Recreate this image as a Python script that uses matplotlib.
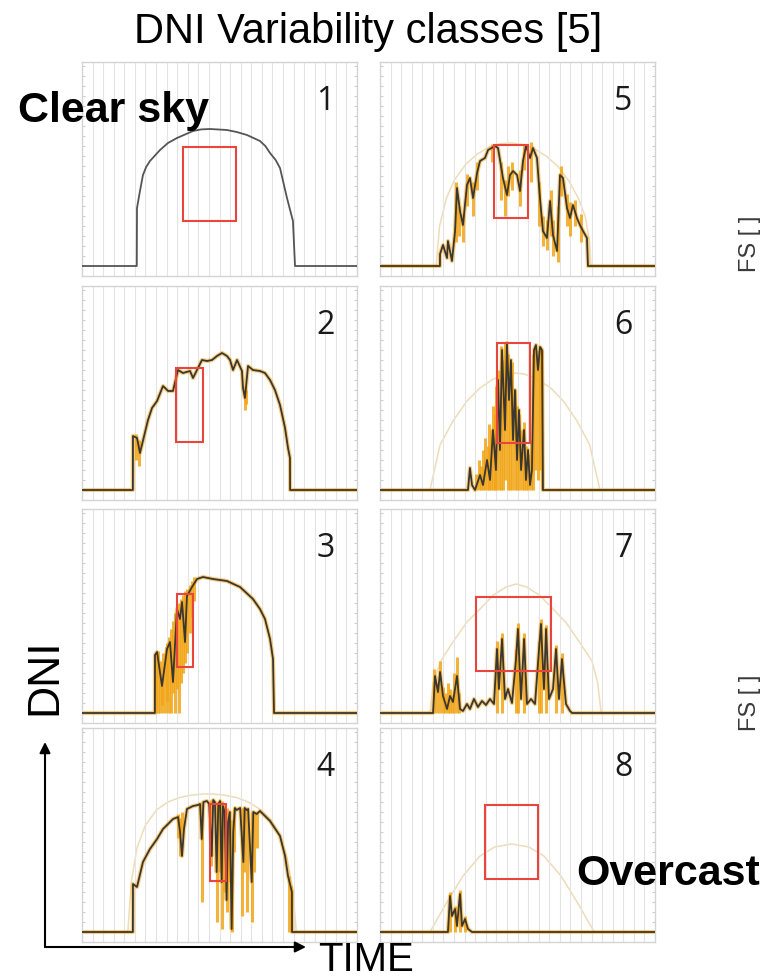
import matplotlib
matplotlib.use("Agg")
import matplotlib.pyplot as plt
from matplotlib.patches import Rectangle, FancyArrowPatch
import numpy as np

# ---------------- data (time of day in h, DNI in W/m2) ----------------
# class 1 - clear sky
t1 = [0, 4.78, 4.80, 5.06, 5.32, 5.60, 5.93, 6.81, 7.50, 8.29, 9.69, 10.40, 11.17,
      12.65, 13.50, 14.40, 15.53, 16.00, 16.41, 16.90, 17.28, 17.89, 18.41, 18.59, 24]
dni1 = [0, 0, 290, 375, 455, 495, 525, 580, 615, 640, 675, 683, 685,
        680, 670, 655, 625, 600, 565, 530, 490, 340, 225, 0, 0]

# class 2
t2 = [0, 4.44, 4.45, 4.80, 5.06, 5.76, 6.11, 6.55, 7.07, 7.51, 7.94, 8.38, 8.81,
      9.43, 9.69, 10.12, 10.47, 10.91, 11.35, 11.78, 12.22, 12.65, 12.92, 13.18,
      13.53, 13.96, 14.05, 14.22, 14.49, 14.92, 15.53, 15.97, 16.41, 16.84, 17.28,
      17.72, 17.98, 18.15, 18.16, 24]
dni2 = [0, 0, 270, 260, 185, 350, 410, 445, 520, 495, 495, 600, 585,
        595, 560, 610, 650, 645, 650, 670, 685, 670, 650, 600,
        650, 595, 510, 460, 620, 600, 595, 585, 550, 500, 425,
        310, 210, 160, 0, 0]

# class 3
t3 = [0, 6.36, 6.37, 6.55, 6.98, 7.42, 7.68, 7.94, 8.29, 8.55, 8.73, 8.99, 9.16,
      9.60, 10.04, 10.56, 11.43, 12.65, 13.79, 14.92, 15.53, 15.97, 16.41, 16.67,
      16.76, 24]
dni3 = [0, 0, 290, 305, 135, 320, 355, 155, 520, 470, 555, 355, 585,
        630, 670, 680, 670, 660, 630, 570, 520, 470, 370, 270,
        0, 0]

# class 4
t4 = [0, 4.44, 4.45, 4.80, 5.32, 5.93, 6.55, 7.07, 7.51, 7.94, 8.38, 8.55, 8.73,
      8.90, 9.16, 9.69, 10.12, 10.30, 10.45, 10.60, 10.90, 11.10, 11.32, 11.45,
      11.60, 11.75, 11.90, 12.05, 12.19, 12.30, 12.45, 12.62, 12.75, 12.90, 13.06,
      13.20, 13.35, 13.50, 13.65, 13.80, 14.08, 14.20, 14.37, 14.50, 14.81, 14.95,
      15.25, 15.53, 16.41, 17.28, 17.72, 17.98, 18.32, 18.33, 24]
dni4 = [0, 0, 240, 225, 350, 415, 465, 515, 540, 565, 575, 505, 380,
        515, 615, 630, 635, 640, 465, 650, 655, 640, 380, 660,
        650, 300, 640, 655, 250, 630, 600, 160, 550, 600, 15,
        500, 620, 610, 615, 620, 350, 620, 610, 615, 250, 600,
        590, 605, 555, 480, 380, 280, 200, 0, 0]

# class 5
t5 = [0, 5.23, 5.24, 5.50, 5.85, 5.93, 6.28, 6.55, 6.72, 6.98, 7.24, 7.59, 7.85,
      8.12, 8.47, 8.73, 9.16, 9.43, 10.04, 10.30, 10.73, 11.08, 11.35, 11.61,
      11.96, 12.22, 12.48, 12.74, 13.09, 13.35, 13.70, 13.96, 14.22, 14.57, 14.84,
      15.10, 15.45, 15.71, 15.97, 16.32, 16.58, 16.84, 17.19, 17.45, 17.72, 18.06,
      18.15, 24]
dni5 = [0, 0, 60, 105, 40, 125, 25, 175, 390, 275, 205, 405, 440,
        340, 465, 525, 540, 580, 600, 590, 440, 355, 455, 475,
        455, 375, 525, 600, 540, 590, 540, 340, 175, 140, 325,
        155, 75, 455, 440, 290, 240, 305, 240, 205, 175, 140,
        0, 0]

# class 6
t6 = [0, 7.68, 7.85, 8.03, 8.29, 8.73, 8.99, 9.34, 9.60, 9.86, 10.12, 10.30,
      10.47, 10.65, 10.91, 11.08, 11.26, 11.43, 11.61, 11.78, 11.96, 12.13, 12.31,
      12.57, 12.74, 12.92, 13.09, 13.26, 13.44, 13.61, 13.79, 13.96, 14.14, 14.22, 24]
dni6 = [0, 0, 110, 25, 0, 75, 25, 150, 50, 300, 100, 550,
        200, 700, 300, 735, 450, 650, 250, 500, 150, 400, 100,
        300, 50, 200, 25, 100, 700, 725, 600, 715, 700, 0, 0]

# class 7
t7 = [0, 4.63, 4.80, 5.06, 5.24, 5.50, 5.85, 6.11, 6.37, 6.72, 6.98, 7.24, 7.59,
      7.85, 8.20, 8.55, 8.90, 9.25, 9.60, 9.95, 10.21, 10.38, 10.65, 10.91, 11.17,
      11.52, 11.87, 12.04, 12.31, 12.57, 12.83, 13.18, 13.53, 13.88, 14.05, 14.31,
      14.49, 14.75, 15.10, 15.36, 15.62, 15.88, 16.23, 16.58, 16.76, 24]
dni7 = [0, 0, 185, 105, 205, 85, 20, 85, 55, 185, 20, 10, 45,
        20, 70, 30, 60, 40, 70, 45, 320, 120, 370, 70, 120,
        50, 270, 420, 70, 370, 45, 70, 45, 320, 445, 120,
        420, 70, 120, 320, 70, 270, 45, 10, 0, 0]

# class 8 - overcast
t8 = [0, 5.93, 6.11, 6.28, 6.55, 6.72, 6.98, 7.16, 7.42, 7.68, 8.03, 24]
dni8 = [0, 0, 180, 80, 115, 30, 190, 30, 65, 15, 0, 0]

# clear-sky reference (beige) for classes 4-8
cs_t4 = [4.0, 4.3, 4.8, 5.5, 6.5, 7.5, 8.5, 9.5, 10.5, 11.5, 12.5, 13.5, 14.5,
         15.5, 16.5, 17.3, 17.9, 18.4, 18.7]
cs_dni4 = [0, 250, 420, 530, 610, 650, 672, 684, 690, 690, 684, 672, 650,
           615, 560, 480, 370, 210, 0]
cs_t5 = [4.9, 5.2, 5.8, 6.5, 7.5, 8.5, 9.5, 10.5, 11.5, 12.5, 13.5, 14.5, 15.5,
         16.5, 17.3, 17.9, 18.3, 18.4]
cs_dni5 = [0, 200, 340, 430, 510, 560, 595, 612, 615, 607, 585, 550, 500,
           425, 340, 250, 120, 0]
cs_t6 = [4.36, 5.24, 6.37, 7.59, 8.73, 9.9, 11.0, 11.8, 12.6, 13.7, 14.9, 16.0,
         17.2, 18.3, 19.2]
cs_dni6 = [0, 225, 345, 445, 510, 555, 580, 585, 580, 555, 510, 445,
           345, 225, 0]
cs_t7 = [4.36, 4.63, 5.3, 6.37, 7.59, 8.73, 9.9, 11.0, 11.9, 12.8, 13.9, 15.1,
         16.2, 17.4, 18.5, 19.0, 19.3]
cs_dni7 = [0, 150, 260, 355, 455, 520, 590, 630, 645, 630, 590, 520,
           455, 355, 260, 150, 0]
cs_t8 = [4.36, 5.85, 7.24, 8.73, 10.0, 11.5, 13.0, 14.3, 15.8, 17.2, 18.7]
cs_dni8 = [0, 150, 280, 380, 425, 440, 425, 380, 280, 150, 0]

# orange high-resolution variability (spike time, low, high)
spk_t2 = [4.75, 5.0, 14.22, 14.3]
spk_lo2 = [150, 120, 400, 430]
spk_hi2 = [280, 250, 520, 500]
spk_t3 = [6.45, 6.6, 6.8, 6.95, 7.1, 7.3, 7.45, 7.6, 7.8, 7.95, 8.1, 8.25, 8.45,
          8.6, 8.8, 9.0, 9.2, 9.4, 9.6, 9.8]
spk_lo3 = [0, 0, 0, 40, 0, 0, 60, 0, 0, 100, 0, 120, 0, 150, 200, 250, 300, 400,
           480, 560]
spk_hi3 = [300, 310, 260, 200, 300, 330, 350, 380, 420, 460, 500, 520, 550, 570,
           590, 610, 620, 640, 660, 680]
spk_t4 = [8.35, 8.55, 8.75, 10.45, 11.3, 11.75, 12.0, 12.19, 12.4, 12.62, 12.85,
          13.06, 13.3, 14.0, 14.15, 14.37, 14.81, 15.0, 15.3, 18.1, 18.25]
spk_lo4 = [470, 380, 480, 150, 330, 50, 300, 15, 200, 100, 250, 0, 400, 80, 300,
           100, 50, 300, 420, 0, 0]
spk_hi4 = [590, 570, 600, 650, 660, 650, 655, 655, 640, 620, 600, 560, 620, 620,
           620, 610, 600, 600, 600, 280, 230]
spk_t5 = [6.6, 6.9, 7.2, 7.6, 8.1, 8.5, 9.8, 10.6, 10.9, 11.2, 11.5, 12.2, 12.6,
          13.2, 13.9, 14.2, 14.6, 14.9, 15.1, 15.5, 15.8, 16.3, 16.6, 17.0, 17.5]
spk_lo5 = [120, 150, 120, 300, 250, 380, 520, 330, 250, 350, 380, 300, 480, 420,
           200, 100, 80, 150, 50, 20, 350, 200, 150, 200, 120]
spk_hi5 = [420, 300, 260, 460, 420, 520, 610, 520, 430, 500, 520, 480, 610, 620,
           420, 250, 230, 380, 230, 300, 500, 360, 320, 330, 260]
spk_t6 = [8.4, 8.6, 8.8, 9.0, 9.2, 9.4, 9.55, 9.7, 9.85, 10.0, 10.15, 10.35, 10.55,
          10.75, 10.95, 11.15, 11.35, 11.55, 11.75, 11.95, 12.15, 12.35, 12.55,
          12.75, 12.95, 13.15, 13.35, 13.55, 13.75, 13.95, 14.15]
spk_lo6 = [0, 0, 0, 0, 0, 0, 0, 0, 0, 0, 0, 0, 0, 0, 50, 0, 0, 0, 0, 0, 0, 0, 0,
           0, 0, 0, 0, 100, 50, 100, 0]
spk_hi6 = [80, 150, 120, 200, 260, 220, 330, 300, 420, 380, 520, 600, 720, 650,
           740, 680, 600, 640, 500, 420, 380, 300, 340, 220, 180, 250, 680, 720,
           700, 720, 700]
spk_t7 = [4.75, 5.0, 5.25, 5.5, 5.7, 5.9, 6.1, 6.3, 6.5, 6.72, 6.9, 10.2, 10.65,
          11.9, 12.05, 12.57, 13.9, 14.05, 14.5, 15.36, 15.9]
spk_lo7 = [0] * 21
spk_hi7 = [220, 150, 260, 130, 100, 150, 120, 90, 200, 280, 100, 360, 400, 320,
           450, 400, 360, 470, 440, 340, 300]
spk_t8 = [6.1, 6.55, 6.98, 7.4]
spk_lo8 = [0, 0, 0, 0]
spk_hi8 = [200, 130, 210, 80]

# red boxes: (t start, t end, dni low, dni high)
boxes = [(8.81, 13.44, 225, 595), (8.20, 10.56, 240, 610),
         (8.29, 9.69, 230, 595), (11.17, 12.57, 255, 640),
         (9.95, 12.92, 240, 605), (10.21, 13.09, 235, 735),
         (8.38, 14.92, 210, 580), (9.16, 13.79, 265, 635)]

labels = ["1", "2", "3", "4", "5", "6", "7", "8"]

series = [(t1, dni1), (t2, dni2), (t3, dni3), (t4, dni4),
          (t5, dni5), (t6, dni6), (t7, dni7), (t8, dni8)]
clear = [None, None, None, (cs_t4, cs_dni4), (cs_t5, cs_dni5),
         (cs_t6, cs_dni6), (cs_t7, cs_dni7), (cs_t8, cs_dni8)]
spikes = [None, (spk_t2, spk_lo2, spk_hi2), (spk_t3, spk_lo3, spk_hi3),
          (spk_t4, spk_lo4, spk_hi4), (spk_t5, spk_lo5, spk_hi5),
          (spk_t6, spk_lo6, spk_hi6), (spk_t7, spk_lo7, spk_hi7),
          (spk_t8, spk_lo8, spk_hi8)]

# ---------------- figure ----------------
W, H = 762, 978
fig = plt.figure(figsize=(W / 100, H / 100), dpi=100)
fig.patch.set_facecolor("white")

col_left = [82, 380]
row_top = [63, 287, 510, 729]
pw, ph = 275, 214

orange = "#f2a516"
line_col = "#3a3630"
beige = "#efdcb8"

for i in range(8):
    col, row = divmod(i, 4)
    ax = fig.add_axes([col_left[col] / W, 1 - (row_top[row] + ph) / H, pw / W, ph / H])
    ax.set_xlim(0, 24)
    ax.set_ylim(-50, 1020)

    if clear[i] is not None:
        ax.plot(clear[i][0], clear[i][1], color=beige, lw=1.1, zorder=1)

    t, d = series[i]
    if spikes[i] is not None:
        st, lo, hi = spikes[i]
        ax.vlines(st, lo, hi, color=orange, lw=2.2, alpha=0.85, zorder=2)
    if i > 0:
        ax.plot(t, d, color=orange, lw=3.0, alpha=0.55, zorder=2, solid_joinstyle="round")
    ax.plot(t, d, color=line_col if i > 0 else "#555555", lw=1.3, zorder=3,
            solid_joinstyle="round")

    b = boxes[i]
    ax.add_patch(Rectangle((b[0], b[2]), b[1] - b[0], b[3] - b[2], fill=False,
                           edgecolor="#e8453c", lw=1.5, zorder=4))

    ax.text(0.885, 0.82, labels[i], transform=ax.transAxes, fontsize=23,
            family="Open Sans", color="#1a1a1a", ha="center", va="center")

    # dense vertical grid
    ax.set_xticks(np.arange(1, 26) * 24 / 26)
    ax.grid(axis="x", color="#e4e4e4", lw=0.8)
    ax.tick_params(axis="x", length=0, labelbottom=False)
    ax.set_yticks(np.arange(0, 1001, 50))
    ax.tick_params(axis="y", left=True, right=True, direction="in", length=2.5,
                   color="#cccccc", labelleft=False)
    for s in ax.spines.values():
        s.set_color("#d4d4d4")
        s.set_linewidth(1.0)

# ---------------- annotations ----------------
fig.text(368 / W, 1 - 32 / H, "DNI Variability classes [5]", fontsize=30,
         family="Liberation Sans", ha="center", va="center")
fig.text(18 / W, 1 - 122 / H, "Clear sky", fontsize=31, fontweight="bold",
         family="Liberation Sans", ha="left", va="baseline")
fig.text(760 / W, 1 - 885 / H, "Overcast", fontsize=31, fontweight="bold",
         family="Liberation Sans", ha="right", va="baseline")
fig.text(318 / W, 1 - 971 / H, "TIME", fontsize=29,
         family="Liberation Sans", ha="left", va="baseline")
fig.text(45 / W, 1 - 677 / H, "DNI", fontsize=32, rotation=90,
         family="Liberation Sans", ha="center", va="center")
fig.text(761 / W, 1 - 244 / H, "FS [ ]", fontsize=17, rotation=90,
         color="#3a3a3a", family="Liberation Sans", ha="right", va="center")
fig.text(761 / W, 1 - 703 / H, "FS [ ]", fontsize=17, rotation=90,
         color="#3a3a3a", family="Liberation Sans", ha="right", va="center")

corner = (45 / W, 1 - 948 / H)
fig.add_artist(FancyArrowPatch(corner, (45 / W, 1 - 743 / H), transform=fig.transFigure,
                               arrowstyle="-|>", mutation_scale=16, lw=1.5,
                               color="black", shrinkA=0, shrinkB=0))
fig.add_artist(FancyArrowPatch(corner, (306 / W, 1 - 948 / H), transform=fig.transFigure,
                               arrowstyle="-|>", mutation_scale=16, lw=1.5,
                               color="black", shrinkA=0, shrinkB=0))

fig.savefig("out.png", dpi=100)
